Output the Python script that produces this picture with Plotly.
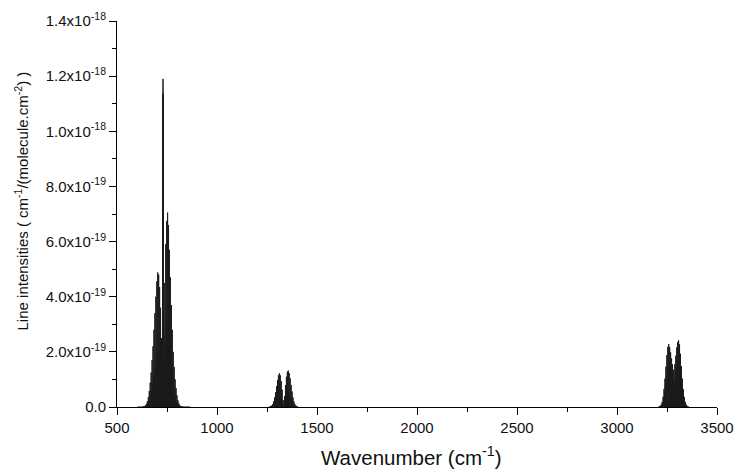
import plotly.graph_objects as go

UNIT = 1e-19  # intensities below are in units of 1e-19 cm-1/(molecule.cm-2)

# nu5 band (P, Q, R branches) - wavenumbers (cm-1)
band1_wn = [
    602.6, 604.95, 607.3, 609.65, 612.0, 614.35, 616.7, 619.05, 621.4, 623.75,
    626.1, 628.45, 630.8, 633.15, 635.5, 637.85, 640.2, 642.55, 644.9, 647.25,
    649.6, 651.95, 654.3, 656.65, 659.0, 661.35, 663.7, 666.05, 668.4, 670.75,
    673.1, 675.45, 677.8, 680.15, 682.5, 684.85, 687.2, 689.55, 691.9, 694.25,
    696.6, 698.95, 701.3, 703.65, 706.0, 708.35, 710.7, 713.05, 715.4, 717.75,
    720.1, 722.45, 724.8, 727.15,
    729.3, 729.4, 729.5, 729.6, 729.7, 729.8, 729.9, 730.0, 730.1, 730.2,
    730.3, 730.4, 730.5, 730.6, 730.7, 730.8, 730.9, 731.0, 731.1, 731.2,
    731.3, 731.4, 731.5,
    731.85, 734.2, 736.55, 738.9, 741.25, 743.6, 745.95, 748.3, 750.65, 753.0,
    755.35, 757.7, 760.05, 762.4, 764.75, 767.1, 769.45, 771.8, 774.15, 776.5,
    778.85, 781.2, 783.55, 785.9, 788.25, 790.6, 792.95, 795.3, 797.65, 800.0,
    802.35, 804.7, 807.05, 809.4, 811.75, 814.1, 816.45, 818.8, 821.15, 823.5,
    825.85, 828.2, 830.55, 832.9, 835.25, 837.6, 839.95, 842.3, 844.65, 847.0,
    849.35, 851.7, 854.05, 856.4, 858.75, 861.1, 863.45, 865.8,
]
band1_int = [
    0.001, 0.002, 0.001, 0.002, 0.001, 0.002, 0.001, 0.002, 0.001, 0.003,
    0.002, 0.007, 0.004, 0.015, 0.009, 0.032, 0.019, 0.065, 0.038, 0.12,
    0.067, 0.21, 0.118, 0.36, 0.19, 0.58, 0.30, 0.88, 0.44, 1.25,
    0.61, 1.70, 0.82, 2.20, 1.05, 2.80, 1.30, 3.40, 1.55, 4.00,
    1.81, 4.55, 2.00, 4.88, 2.06, 4.80, 1.93, 4.35, 1.68, 3.60,
    1.30, 2.50, 0.76, 1.00,
    3.1, 1.6, 6.8, 2.9, 9.7, 3.6, 11.4, 3.9, 11.9, 3.9,
    11.3, 3.6, 10.0, 3.1, 8.2, 2.4, 6.3, 1.7, 4.5, 1.1,
    3.0, 0.7, 1.9,
    0.59, 2.6, 1.51, 4.5, 2.23, 5.9, 2.69, 6.75, 2.92, 7.05,
    2.90, 6.6, 2.60, 5.7, 2.18, 4.7, 1.76, 3.7, 1.34, 2.8,
    1.01, 2.0, 0.71, 1.45, 0.50, 1.0, 0.36, 0.68, 0.23, 0.42,
    0.13, 0.24, 0.076, 0.13, 0.038, 0.065, 0.019, 0.03, 0.008, 0.014,
    0.004, 0.007, 0.002, 0.004, 0.001, 0.003, 0.001, 0.002, 0.001, 0.002,
    0.001, 0.002, 0.001, 0.002, 0.001, 0.002, 0.001, 0.002,
]

# nu4+nu5 band
band2_wn = [
    1262.5, 1264.85, 1267.2, 1269.55, 1271.9, 1274.25, 1276.6, 1278.95, 1281.3, 1283.65,
    1286.0, 1288.35, 1290.7, 1293.05, 1295.4, 1297.75, 1300.1, 1302.45, 1304.8, 1307.15,
    1309.5, 1311.85, 1314.2, 1316.55, 1318.9, 1321.25, 1323.6, 1325.95, 1328.3, 1330.65,
    1335.35, 1337.7, 1340.05, 1342.4, 1344.75, 1347.1, 1349.45, 1351.8, 1354.15, 1356.5,
    1358.85, 1361.2, 1363.55, 1365.9, 1368.25, 1370.6, 1372.95, 1375.3, 1377.65, 1380.0,
    1382.35, 1384.7, 1387.05, 1389.4, 1391.75, 1394.1, 1396.45, 1398.8, 1401.15, 1403.5,
]
band2_int = [
    0.003, 0.01, 0.007, 0.025, 0.016, 0.055, 0.034, 0.11, 0.063, 0.21,
    0.113, 0.35, 0.185, 0.54, 0.273, 0.76, 0.365, 0.98, 0.449, 1.15,
    0.504, 1.22, 0.504, 1.15, 0.445, 0.94, 0.336, 0.63, 0.189, 0.25,
    0.076, 0.40, 0.252, 0.79, 0.403, 1.10, 0.508, 1.28, 0.55, 1.32,
    0.542, 1.23, 0.479, 1.04, 0.386, 0.80, 0.286, 0.56, 0.189, 0.35,
    0.113, 0.20, 0.061, 0.10, 0.029, 0.047, 0.013, 0.02, 0.005, 0.008,
]

# nu3 band region
band3_wn = [
    3209.3, 3211.65, 3214.0, 3216.35, 3218.7, 3221.05, 3223.4, 3225.75, 3228.1, 3230.45,
    3232.8, 3235.15, 3237.5, 3239.85, 3242.2, 3244.55, 3246.9, 3249.25, 3251.6, 3253.95,
    3256.3, 3258.65, 3261.0, 3263.35, 3265.7, 3268.05, 3270.4, 3272.75, 3275.1, 3277.45,
    3279.8, 3282.15,
    3286.85, 3289.2, 3291.55, 3293.9, 3296.25, 3298.6, 3300.95, 3303.3, 3305.65, 3308.0,
    3310.35, 3312.7, 3315.05, 3317.4, 3319.75, 3322.1, 3324.45, 3326.8, 3329.15, 3331.5,
    3333.85, 3336.2, 3338.55, 3340.9, 3343.25, 3345.6, 3347.95, 3350.3, 3352.65, 3355.0,
    3357.35,
]
band3_int = [
    0.007, 0.015, 0.016, 0.04, 0.039, 0.09, 0.085, 0.19, 0.176, 0.37,
    0.325, 0.65, 0.54, 1.03, 0.806, 1.46, 1.09, 1.88, 1.33, 2.18,
    1.47, 2.28, 1.46, 2.17, 1.35, 1.98, 1.22, 1.76, 1.07, 1.55,
    0.94, 1.35,
    0.91, 1.55, 1.105, 1.86, 1.313, 2.16, 1.482, 2.36, 1.567, 2.42,
    1.54, 2.27, 1.378, 1.93, 1.112, 1.48, 0.813, 1.03, 0.54, 0.65,
    0.325, 0.37, 0.176, 0.19, 0.085, 0.09, 0.039, 0.04, 0.016, 0.015,
    0.007,
]

bands = [(band1_wn, band1_int), (band2_wn, band2_int), (band3_wn, band3_int)]

y_tickvals = [0, 2e-19, 4e-19, 6e-19, 8e-19, 1.0e-18, 1.2e-18, 1.4e-18]
y_ticktext = ["0.0", "2.0x10<sup>-19</sup>", "4.0x10<sup>-19</sup>", "6.0x10<sup>-19</sup>",
              "8.0x10<sup>-19</sup>", "1.0x10<sup>-18</sup>", "1.2x10<sup>-18</sup>",
              "1.4x10<sup>-18</sup>"]
y_minor = [1e-19, 3e-19, 5e-19, 7e-19, 9e-19, 1.1e-18, 1.3e-18]
x_tickvals = [500, 1000, 1500, 2000, 2500, 3000, 3500]

FONT = "Liberation Sans, Arial, sans-serif"

fig = go.Figure()
for wn, inten in bands:
    xs, ys = [], []
    for w, v in zip(wn, inten):
        xs += [w, w, w]
        ys += [0, v * UNIT, 0]
    fig.add_trace(go.Scatter(x=xs, y=ys, mode="lines",
                             line=dict(color="#1c1c1c", width=1, simplify=False),
                             hoverinfo="skip", showlegend=False))

fig.update_layout(
    width=737, height=472, autosize=False,
    margin=dict(l=117, r=20, t=21, b=65, autoexpand=False),
    paper_bgcolor="white", plot_bgcolor="white",
    font=dict(family=FONT, color="#111111", size=15),
    xaxis=dict(range=[500, 3500], showgrid=False, zeroline=False,
               showline=True, linecolor="black", linewidth=1,
               ticks="outside", ticklen=7, tickwidth=1, tickcolor="black",
               tickvals=x_tickvals, tickfont=dict(size=15),
               minor=dict(ticks="outside", ticklen=4, dtick=250, tickcolor="black")),
    yaxis=dict(range=[0, 1.4e-18], showgrid=False, zeroline=False,
               showline=True, linecolor="black", linewidth=1,
               ticks="outside", ticklen=7, tickwidth=1, tickcolor="black",
               tickvals=y_tickvals, ticktext=y_ticktext, tickfont=dict(size=15),
               minor=dict(ticks="outside", ticklen=4, tickvals=y_minor, tickcolor="black")),
    annotations=[
        dict(text="Wavenumber (cm<sup>-1</sup>)", xref="paper", yref="paper",
             x=0.49, y=-0.127, xanchor="center", yanchor="middle", showarrow=False,
             font=dict(size=20.5, family=FONT, color="#111111")),
        dict(text="Line intensities ( cm<sup>-1</sup>/(molecule.cm<sup>-2</sup>) )",
             xref="paper", yref="paper", x=-0.159, y=0.534, textangle=-90,
             xanchor="center", yanchor="middle", showarrow=False,
             font=dict(size=15, family=FONT, color="#111111")),
    ],
)

fig.write_html("out.html", config={"displayModeBar": False},
               post_script="document.body.style.margin='0';document.body.style.overflow='hidden';")
